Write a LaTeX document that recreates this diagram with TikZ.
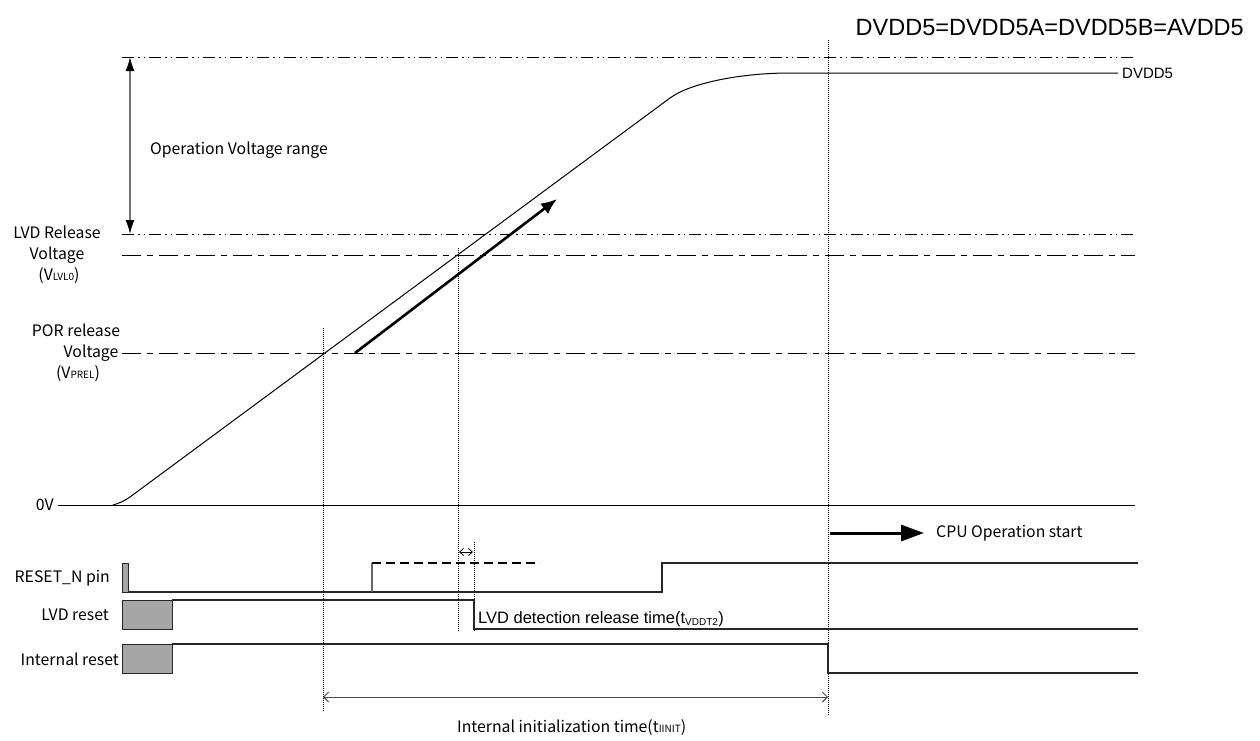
\documentclass[tikz,border=0pt]{standalone}
\usepackage{fontspec}
\setmainfont{Liberation Sans}
\newfontfamily\goth{Noto Sans CJK JP}
\usetikzlibrary{arrows.meta}
\begin{document}
\begin{tikzpicture}[x=1pt,y=-1pt]
\useasboundingbox[fill=white] (0,0) rectangle (1260,740);
\tikzset{
  ddot/.style={line width=1pt, dash pattern=on 12pt off 4pt on 1.5pt off 4pt on 1.5pt off 4pt},
  lsdash/.style={line width=1pt, dash pattern=on 19pt off 6pt on 6pt off 6pt},
  guide/.style={line width=0.9pt, dash pattern=on 1pt off 1pt},
  sig/.style={line width=1.1pt, draw=black!85},
  gbox/.style={fill=black!35, draw=black!85, line width=1pt},
  glab/.style={font=\goth\fontsize{15.8}{21}\selectfont, inner sep=0pt},
  alab/.style={font=\fontsize{15}{18}\selectfont, inner sep=0pt},
}
\newcommand{\smallsub}[1]{{\fontsize{10}{10}\selectfont #1}}

% horizontal reference lines
\coordinate (topL) at (122,57);   \coordinate (topR) at (1135,57);
\coordinate (lvdL) at (122,234);  \coordinate (lvdR) at (1135,234);
\coordinate (vlvL) at (122,255);  \coordinate (vlvR) at (1135,255);
\coordinate (porL) at (122,353);  \coordinate (porR) at (1135,353);
\coordinate (zeroL) at (58,505);  \coordinate (zeroR) at (1135,505);
\draw[ddot] (topL) -- (topR);
\draw[ddot] (lvdL) -- (lvdR);
\draw[lsdash] (vlvL) -- (vlvR);
\draw[lsdash] (porL) -- (porR);
\draw[line width=1pt] (zeroL) -- (zeroR);

% operation voltage range arrow
\coordinate (opT) at (130,57); \coordinate (opB) at (130,234);
\draw[line width=1.3pt, draw=black!55, {Latex[length=14pt,width=9pt,fill=black,color=black]}-{Latex[length=14pt,width=9pt,fill=black,color=black]}] (opT) -- (opB);
\node[glab, anchor=west] (oprange) at (150,150) {Operation Voltage range};

% left labels
\node[glab, align=center] (lvdlab) at (57,255) {LVD Release\\Voltage\\\hspace*{4pt}(V\smallsub{LVL0})};
\node[glab, align=center] (porlab) at (76,353) {POR release\\\hspace*{30pt}Voltage\\\hspace*{4pt}(V\smallsub{PREL})};
\node[glab, anchor=east] (zerolab) at (54,505) {0V};

% DVDD5 curve
\coordinate (c0) at (113,505);
\coordinate (c1) at (130,497);
\coordinate (c2) at (670,98);
\coordinate (c3) at (790,73);
\coordinate (c4) at (1118,73);
\draw[line width=1pt] (c0) .. controls (120,503) and (125,500.5) .. (c1) -- (c2) .. controls (690,83.2) and (740,73) .. (c3) -- (c4);
\node[alab, anchor=west] (dvddlab) at (1122,73) {DVDD5};
\node[font=\fontsize{23.5}{26}\selectfont, inner sep=0pt, anchor=east] (title) at (1244,28) {DVDD5=DVDD5A=DVDD5B=AVDD5};

% thick rise arrow
\coordinate (ra) at (355,353); \coordinate (rb) at (557,199);
\draw[line width=2.6pt, -{Latex[length=16pt,width=13pt]}] (ra) -- (rb);

% vertical guides
\draw[guide] (323,328) -- (323,712);
\draw[guide] (458,248) -- (458,632);
\draw[guide] (474,542) -- (474,632);
\draw[guide] (828,40) -- (828,716);

% CPU operation start
\coordinate (cpuA) at (830,533); \coordinate (cpuB) at (924,533);
\draw[line width=3pt, -{Triangle[length=23pt,width=16pt]}] (cpuA) -- (cpuB);
\node[glab, anchor=west] (cpulab) at (936,533) {CPU Operation start};

% RESET_N pin
\node[glab, anchor=east] (rstlab) at (110,578) {RESET\_N pin};
\draw[gbox] (122,563) rectangle (128,592);
\draw[sig] (128,592) -- (662,592) -- (662,563) -- (1138,563);
\draw[sig, draw=black!60] (372,592) -- (372,563);
\draw[line width=1.1pt, dash pattern=on 9pt off 5pt] (372,563) -- (540,563);
\draw[line width=0.8pt, {Straight Barb[length=4pt,width=7pt]}-{Straight Barb[length=4pt,width=7pt]}] (459,552) -- (473,552);

% LVD reset
\node[glab, anchor=east] (lvdrlab) at (109,615) {LVD reset};
\draw[gbox] (122,600) rectangle (172,629);
\draw[sig] (172,600) -- (474,600) -- (474,629) -- (1138,629);
\node[font=\fontsize{16.5}{18}\selectfont, inner sep=0pt, anchor=west] (tvddt) at (478,619) {LVD detection release time(t$_{\hbox{\fontsize{10}{10}\selectfont VDDT2}}$)};

% Internal reset
\node[glab, anchor=east] (intlab) at (119,659) {Internal reset};
\draw[gbox] (122,644) rectangle (172,673);
\draw[sig] (172,644) -- (828,644) -- (828,673) -- (1138,673);

% internal init time
\coordinate (tiA) at (323,697); \coordinate (tiB) at (828,697);
\draw[line width=1pt, draw=black!70, {Straight Barb[length=5pt,width=10pt]}-{Straight Barb[length=5pt,width=10pt]}] (tiA) -- (tiB);
\node[glab, anchor=west] (tilab) at (457,728) {Internal initialization time(t\smallsub{IINIT})};
\end{tikzpicture}
\end{document}
